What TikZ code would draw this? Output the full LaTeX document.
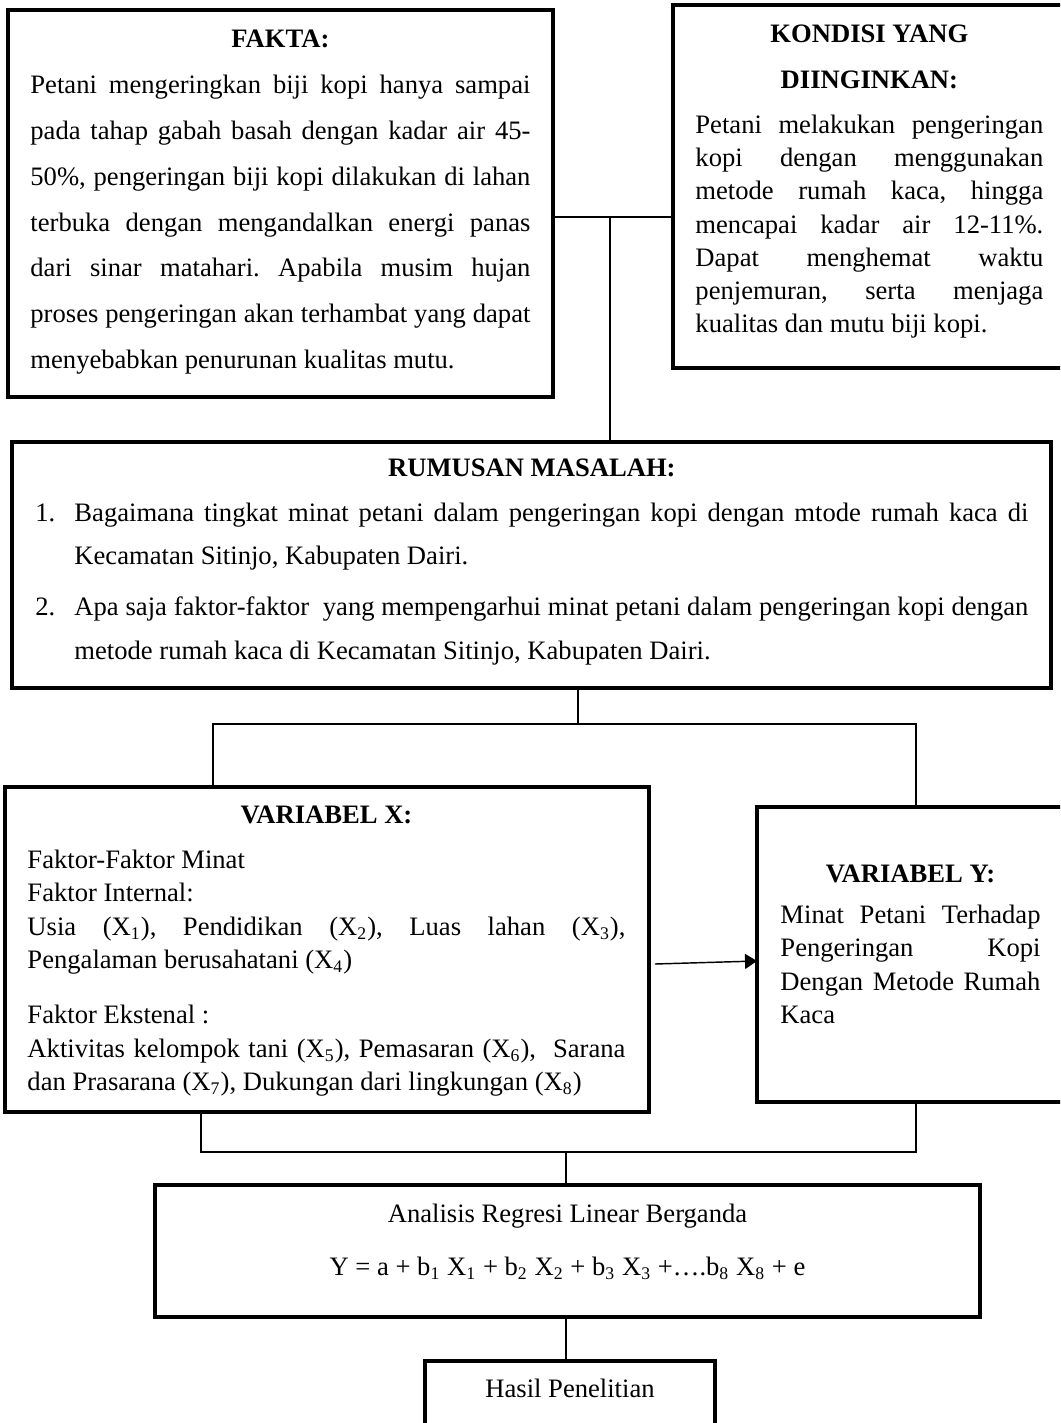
\documentclass[tikz,border=0pt]{standalone}
\usepackage{fontspec}
\setmainfont{Liberation Serif}
\usepackage{tikz}
\usetikzlibrary{calc,arrows.meta}
\newcommand{\boxtitle}[1]{{\centering\bfseries #1\par}}
\newcommand{\xs}[1]{X\textsubscript{#1}}
\newcommand{\numitem}[2]{\hangindent=17.6pt\hangafter=1\noindent\hbox to 17.6pt{#1\hfil}#2\par}
\pretolerance=10000
\tolerance=10000
\frenchspacing

\begin{document}
\begin{tikzpicture}[x=0.451pt,y=-0.451pt,
    box/.style={draw,line width=1.6pt,inner sep=0pt,outer sep=0pt},
    txt/.style={inner sep=0pt,anchor=north west,align=justify},
    link/.style={line width=0.65pt}]

            \useasboundingbox (0,0) rectangle (1060,1423);
            \clip (0,0) rectangle (1060,1423);

            % the frames
            \node[box,minimum width=245.8pt,minimum height=174.5pt] (fakta) at (280.5,203.5) {};
            \node[box,minimum width=176.8pt,minimum height=163.7pt] (kondisi) at (869,186.5) {};
            \node[box,minimum width=468.6pt,minimum height=110.9pt] (rumusan) at (531.5,565) {};
            \node[box,minimum width=290.4pt,minimum height=146.6pt] (varx) at (327,949.5) {};
            \node[box,minimum width=138.9pt,minimum height=133pt] (vary) at (911,954.5) {};
            \node[box,minimum width=372.1pt,minimum height=59.5pt] (analisis) at (567.5,1251) {};
            \node[box,minimum width=130.8pt,minimum height=45.1pt] (hasil) at (570,1411) {};

            % the texts
            \node[txt,text width=225.5pt,font=\fontsize{12}{20.7}\selectfont] (faktatext) at ($(fakta.north west)+(22,19.4)$)
                {%
                \boxtitle{FAKTA:}
                Petani mengeringkan biji kopi hanya sampai\linebreak
                pada tahap gabah basah dengan kadar air 45-\linebreak
                50\%, pengeringan biji kopi dilakukan di lahan\linebreak
                terbuka dengan mengandalkan energi panas\linebreak
                dari sinar matahari. Apabila musim hujan\linebreak
                proses pengeringan akan terhambat yang dapat\linebreak
                menyebabkan penurunan kualitas mutu.
                };

            \node[txt,text width=156.9pt,font=\fontsize{12}{20.7}\selectfont] (kondisitext) at ($(kondisi.north west)+(22,19.4)$)
                {%
                \boxtitle{KONDISI YANG}
                \boxtitle{DIINGINKAN:}
                \vspace{5.3pt}
                {\fontsize{12}{15}\selectfont
                Petani melakukan pengeringan\linebreak
                kopi dengan menggunakan\linebreak
                metode rumah kaca, hingga\linebreak
                mencapai kadar air 12-11\%.\linebreak
                Dapat menghemat waktu\linebreak
                penjemuran, serta menjaga\linebreak
                kualitas dan mutu biji kopi.\par}
                };

            \node[txt,text width=447.8pt,font=\fontsize{12}{19.5}\selectfont] (rumusantext) at ($(rumusan.north west)+(23,16.4)$)
                {%
                \boxtitle{RUMUSAN MASALAH:}
                \vspace{0.8pt}
                \numitem{1.}{Bagaimana tingkat minat petani dalam pengeringan kopi dengan mtode rumah kaca di\linebreak
                Kecamatan Sitinjo, Kabupaten Dairi.}
                \vspace{3.5pt}
                \numitem{2.}{Apa saja faktor-faktor\ \ yang mempengarhui minat petani dalam pengeringan kopi dengan\linebreak
                metode rumah kaca di Kecamatan Sitinjo, Kabupaten Dairi.}
                };

            \node[txt,text width=269.7pt,font=\fontsize{12}{15.1}\selectfont] (varxtext) at ($(varx.north west)+(22,18.4)$)
                {%
                \boxtitle{VARIABEL X:}
                \vspace{5.2pt}
                Faktor-Faktor Minat\par
                Faktor Internal:\par
                Usia (\xs{1}), Pendidikan (\xs{2}), Luas lahan (\xs{3}),\linebreak
                Pengalaman berusahatani (\xs{4})\par
                \vspace{9.7pt}
                Faktor Ekstenal :\par
                Aktivitas kelompok tani (\xs{5}), Pemasaran (\xs{6}),\ \ Sarana\linebreak
                dan Prasarana (\xs{7}), Dukungan dari lingkungan (\xs{8})
                };

            \node[txt,text width=117.3pt,font=\fontsize{12}{15}\selectfont] (varytext) at ($(vary.north west)+(23,57.4)$)
                {%
                \boxtitle{VARIABEL Y:}
                \vspace{3.5pt}
                Minat Petani Terhadap\linebreak
                Pengeringan Kopi\linebreak
                Dengan Metode Rumah\linebreak
                Kaca
                };

            \node[txt,anchor=north,text width=350pt,font=\fontsize{12}{23.9}\selectfont] (analisistext) at ($(analisis.north)+(0,19)$)
                {%
                {\centering Analisis Regresi Linear Berganda\par
                Y = a + b\textsubscript{1} \xs{1} + b\textsubscript{2} \xs{2} + b\textsubscript{3} \xs{3} +….b\textsubscript{8} \xs{8} + e\par}
                };

            \node[txt,anchor=north,font=\fontsize{12}{15}\selectfont] (hasiltext) at ($(hasil.north)+(0,18)$)
                {Hasil Penelitian};

            % the connectors
            \coordinate (topjoin) at (610,217);
            \draw[link] (fakta.east |- topjoin) -- (kondisi.west |- topjoin);
            \draw[link] (topjoin) -- (topjoin |- rumusan.north);

            \coordinate (midjoin) at (578,724);
            \coordinate (midL) at (213,724);
            \coordinate (midR) at (916,724);
            \draw[link] (midjoin |- rumusan.south) -- (midjoin);
            \draw[link] (midL |- varx.north) -- (midL) -- (midR) -- (midR |- vary.north);

            \draw[link,-{Triangle[length=5.4pt,width=6.8pt]}] ([shift={(6,14.5)}]varx.east) -- ([shift={(0,6.5)}]vary.west);

            \coordinate (lowjoin) at (566,1152);
            \coordinate (lowL) at (201,1152);
            \coordinate (lowR) at (916,1152);
            \draw[link] (lowL |- varx.south) -- (lowL) -- (lowR) -- (lowR |- vary.south);
            \draw[link] (lowjoin) -- (lowjoin |- analisis.north);
            \draw[link] (lowjoin |- analisis.south) -- (lowjoin |- hasil.north);

\end{tikzpicture}
\end{document}
